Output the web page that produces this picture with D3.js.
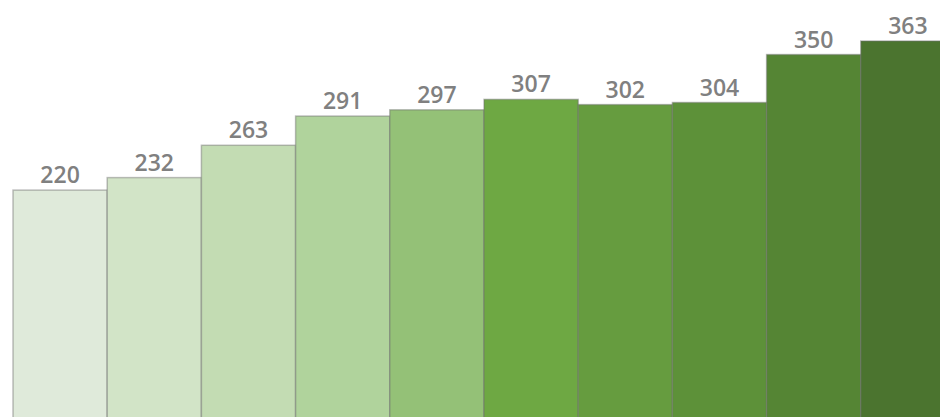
<!DOCTYPE html>
<html><head><meta charset="utf-8">
<script src="https://cdn.jsdelivr.net/npm/d3@7"></script>
<style>html,body{margin:0;padding:0;background:#fff;overflow:hidden}</style>
</head><body>
<svg id="chart" width="940" height="417"></svg>
<script>
const categories = ["1","2","3","4","5","6","7","8","9","10"];
const values = [220, 232, 263, 291, 297, 307, 302, 304, 350, 363];
const colors = ["#dfeada","#d2e4c7","#c3dcb3","#b0d39c","#94c177","#6ea843","#669c3f","#5d9139","#558534","#4b742f"];

const svg = d3.select("#chart");
const x = d3.scaleBand().domain(categories).range([13, 955]).padding(0);
const y = d3.scaleLinear().domain([0, 363]).range([419.5, 41]);

svg.selectAll("rect.bar").data(values).enter().append("rect")
  .attr("class","bar")
  .attr("x",(d,i)=>x(categories[i]))
  .attr("y",d=>y(d))
  .attr("width",x.bandwidth())
  .attr("height",d=>y(0)-y(d))
  .attr("fill",(d,i)=>colors[i])
  .attr("stroke","rgba(110,110,110,0.45)")
  .attr("stroke-width",1.5);

svg.selectAll("text.lbl").data(values).enter().append("text")
  .attr("class","lbl")
  .attr("x",(d,i)=>x(categories[i])+x.bandwidth()/2)
  .attr("y",d=>y(d)-7)
  .attr("text-anchor","middle")
  .attr("font-family","'Open Sans', sans-serif")
  .attr("font-weight","600")
  .attr("font-size","23px")
  .attr("fill","#808080")
  .text(d=>d);
</script>
</body></html>
